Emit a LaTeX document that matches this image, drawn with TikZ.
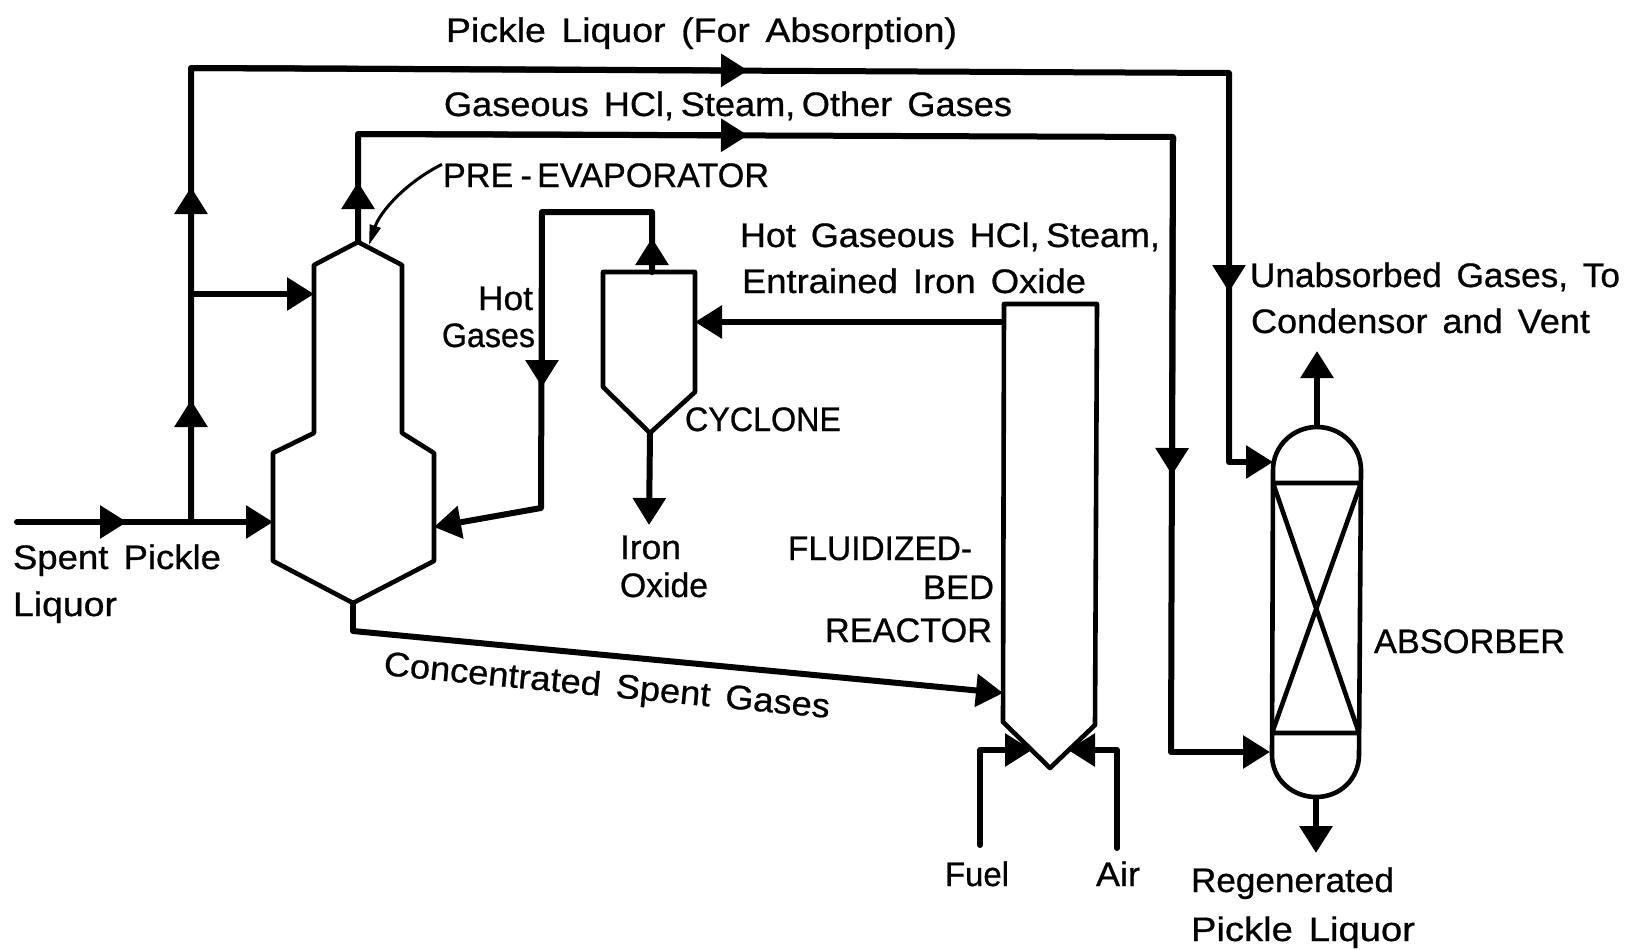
\documentclass[tikz,border=0pt]{standalone}
\usepackage{fontspec}
\usepackage{graphicx}
\setmainfont[WordSpace=1.5,FakeBold=0.7]{Liberation Sans}
\usetikzlibrary{arrows.meta}
\newcommand{\fitw}[2]{\resizebox{#1pt}{\height}{#2}}
\tikzset{
  pipe/.style={line width=6pt,line join=round,line cap=round},
  flow/.style={line width=6pt,-{Triangle[length=27pt,width=32pt]}},
  vessel/.style={line width=4.6pt,line join=round},
  leader/.style={line width=3pt,-{Triangle[length=20pt,width=11pt]}},
  lbl/.style={inner sep=0pt,outer sep=0pt,font=\fontsize{34}{34}\selectfont,anchor=base west},
  lblr/.style={lbl,anchor=base east}
}
\begin{document}
\begin{tikzpicture}[x=1pt,y=-1pt]
\useasboundingbox[fill=white] (0,0) rectangle (1628,950);
% ---- pre-evaporator
\coordinate (pa) at (358,242);
\coordinate (pl) at (314,294);
\coordinate (pw) at (273,522);
\coordinate (pe) at (434,527);
\coordinate (pb) at (353,603);
\draw[vessel] (pa) -- (402,265) -- (402,433) -- (434,453) -- (434,561) -- (pb) -- (273,561) -- (273,453) -- (314,433) -- (314,265) -- cycle;
% ---- cyclone
\coordinate (ct) at (652,272);
\coordinate (cr) at (695,322);
\coordinate (cb) at (650,433);
\draw[vessel] (603,272) -- (695,272) -- (695,392) -- (cb) -- (603,387) -- cycle;
% ---- reactor
\coordinate (rl) at (1004,322);
\coordinate (rc) at (1003,693);
\coordinate (rfl) at (1032,750);
\coordinate (rfr) at (1068,750);
\draw[vessel] (1004,304) -- (1097,304) -- (1095,725) -- (1050,768) -- (1003,722) -- cycle;
% ---- absorber
\coordinate (at) at (1317,427);
\coordinate (ab) at (1316,797);
\coordinate (al) at (1273,462);
\coordinate (am) at (1270,752);
\draw[vessel] (1272,755) -- (1273,470) .. controls (1273,446) and (1293,427) .. (at) .. controls (1341,427) and (1361,446) .. (1361,470) -- (1359,755) .. controls (1359,779) and (1340,797) .. (ab) .. controls (1292,797) and (1272,779) .. (1272,755);
\draw[vessel] (1273,483) -- (1361,483) (1272,733) -- (1360,733) (1273,483) -- (1359,733) (1361,483) -- (1272,733);
% ---- connector points
\coordinate (in) at (17,522);
\coordinate (j1) at (191,522);
\coordinate (j2) at (191,294);
\coordinate (tl) at (191,68);
\coordinate (tr) at (1229,73);
\coordinate (gl) at (358,134);
\coordinate (gr) at (1173,137);
\coordinate (gb) at (1171,752);
\coordinate (h1) at (652,212);
\coordinate (h2) at (542,212);
\coordinate (h3) at (541,508);
\coordinate (c1) at (353,631);
\coordinate (ioe) at (649,525);
\coordinate (f1) at (980,845);
\coordinate (f2) at (980,750);
\coordinate (a1) at (1117,848);
\coordinate (a2) at (1117,750);
\coordinate (uend) at (1317,351);
\coordinate (rend) at (1316,853);
\coordinate (tr2) at (1229,462);
% arrow tips part-way along the pipes
\coordinate (m1) at (127,522);
\coordinate (m2) at (191,400);
\coordinate (m3) at (191,187);
\coordinate (m4) at (748,70.5);
\coordinate (m5) at (1229,292);
\coordinate (m6) at (358,182);
\coordinate (m7) at (748,135.3);
\coordinate (m8) at (1172,475);
\coordinate (m9) at (652,238);
\coordinate (m10) at (542,387);
% ---- pipes
\draw[pipe] (in) -- (j1);
\draw[pipe] (j1) -- (tl) -- (tr) -- (tr2);
\draw[pipe] (pa) -- (gl) -- (gr) -- (gb);
\draw[pipe] (ct) -- (h1) -- (h2) -- (h3);
% ---- arrows
\draw[flow] (in) -- (m1);
\draw[flow] (j1) -- (pw);
\draw[flow] (j1) -- (m2);
\draw[flow] (j1) -- (m3);
\draw[flow] (j2) -- (pl);
\draw[flow] (tl) -- (m4);
\draw[flow] (tr) -- (m5);
\draw[flow] (tr2) -- (al);
\draw[flow] (pa) -- (m6);
\draw[flow] (gl) -- (m7);
\draw[flow] (gr) -- (m8);
\draw[flow] (gb) -- (am);
\draw[flow] (ct) -- (m9);
\draw[flow] (h2) -- (m10);
\draw[flow] (h3) -- (pe);
\draw[flow] (cb) -- (ioe);
\draw[flow] (rl) -- (cr);
\draw[pipe] (pb) -- (c1);
\draw[flow] (c1) -- (rc);
\draw[pipe] (f1) -- (f2);
\draw[flow] (f2) -- (rfl);
\draw[pipe] (a1) -- (a2);
\draw[flow] (a2) -- (rfr);
\draw[flow] (at) -- (uend);
\draw[flow] (ab) -- (rend);
% ---- labels
\node[lbl] (t1) at (446,42) {\fitw{511}{Pickle Liquor (For Absorption)}};
\node[lbl] (t2) at (444,116) {\fitw{568}{Gaseous HCl,\kern-8pt{} Steam,\kern-8pt{} Other Gases}};
\node[lbl] (t3) at (443,187) {\fitw{326}{PRE\kern-7pt{} - \kern-9pt{}EVAPORATOR}};
\draw[leader] (t3.west) ++(-1,-11) coordinate (lead) .. controls (405,183) and (380,212) .. (369,245);
\node[lbl] (t4) at (740,247) {\fitw{420}{Hot Gaseous HCl,\kern-8pt{} Steam,}};
\node[lbl] (t5) at (742,293) {\fitw{344}{Entrained Iron Oxide}};
\node[lbl] (t6) at (1250,287) {\fitw{370}{Unabsorbed Gases, To}};
\node[lbl] (t7) at (1251,333) {\fitw{339}{Condensor and Vent}};
\node[lblr] (t8) at (533,310) {\fitw{55}{Hot}};
\node[lblr] (t9) at (535,347) {\fitw{93}{Gases}};
\node[lbl] (t10) at (685,431) {\fitw{156}{CYCLONE}};
\node[lbl] (t11) at (620,559) {\fitw{61}{Iron}};
\node[lbl] (t12) at (620,597) {\fitw{88}{Oxide}};
\node[lblr] (t13) at (972,560) {\fitw{184}{FLUIDIZED-}};
\node[lblr] (t14) at (994,599) {\fitw{71}{BED}};
\node[lblr] (t15) at (992,642) {\fitw{167}{REACTOR}};
\node[lbl] (t16) at (13,569) {\fitw{208}{Spent Pickle}};
\node[lbl] (t17) at (13,616) {\fitw{104}{Liquor}};
\node[lbl,rotate=-5.5] (t18) at (383,675) {\fitw{448}{Concentrated Spent Gases}};
\node[lbl] (t19) at (1374,653) {\fitw{191}{ABSORBER}};
\node[lbl] (t20) at (945,886) {\fitw{64}{Fuel}};
\node[lbl] (t21) at (1096,886) {\fitw{44}{Air}};
\node[lbl] (t22) at (1191,892) {\fitw{203}{Regenerated}};
\node[lbl] (t23) at (1191,941) {\fitw{224}{Pickle Liquor}};
\end{tikzpicture}
\end{document}
